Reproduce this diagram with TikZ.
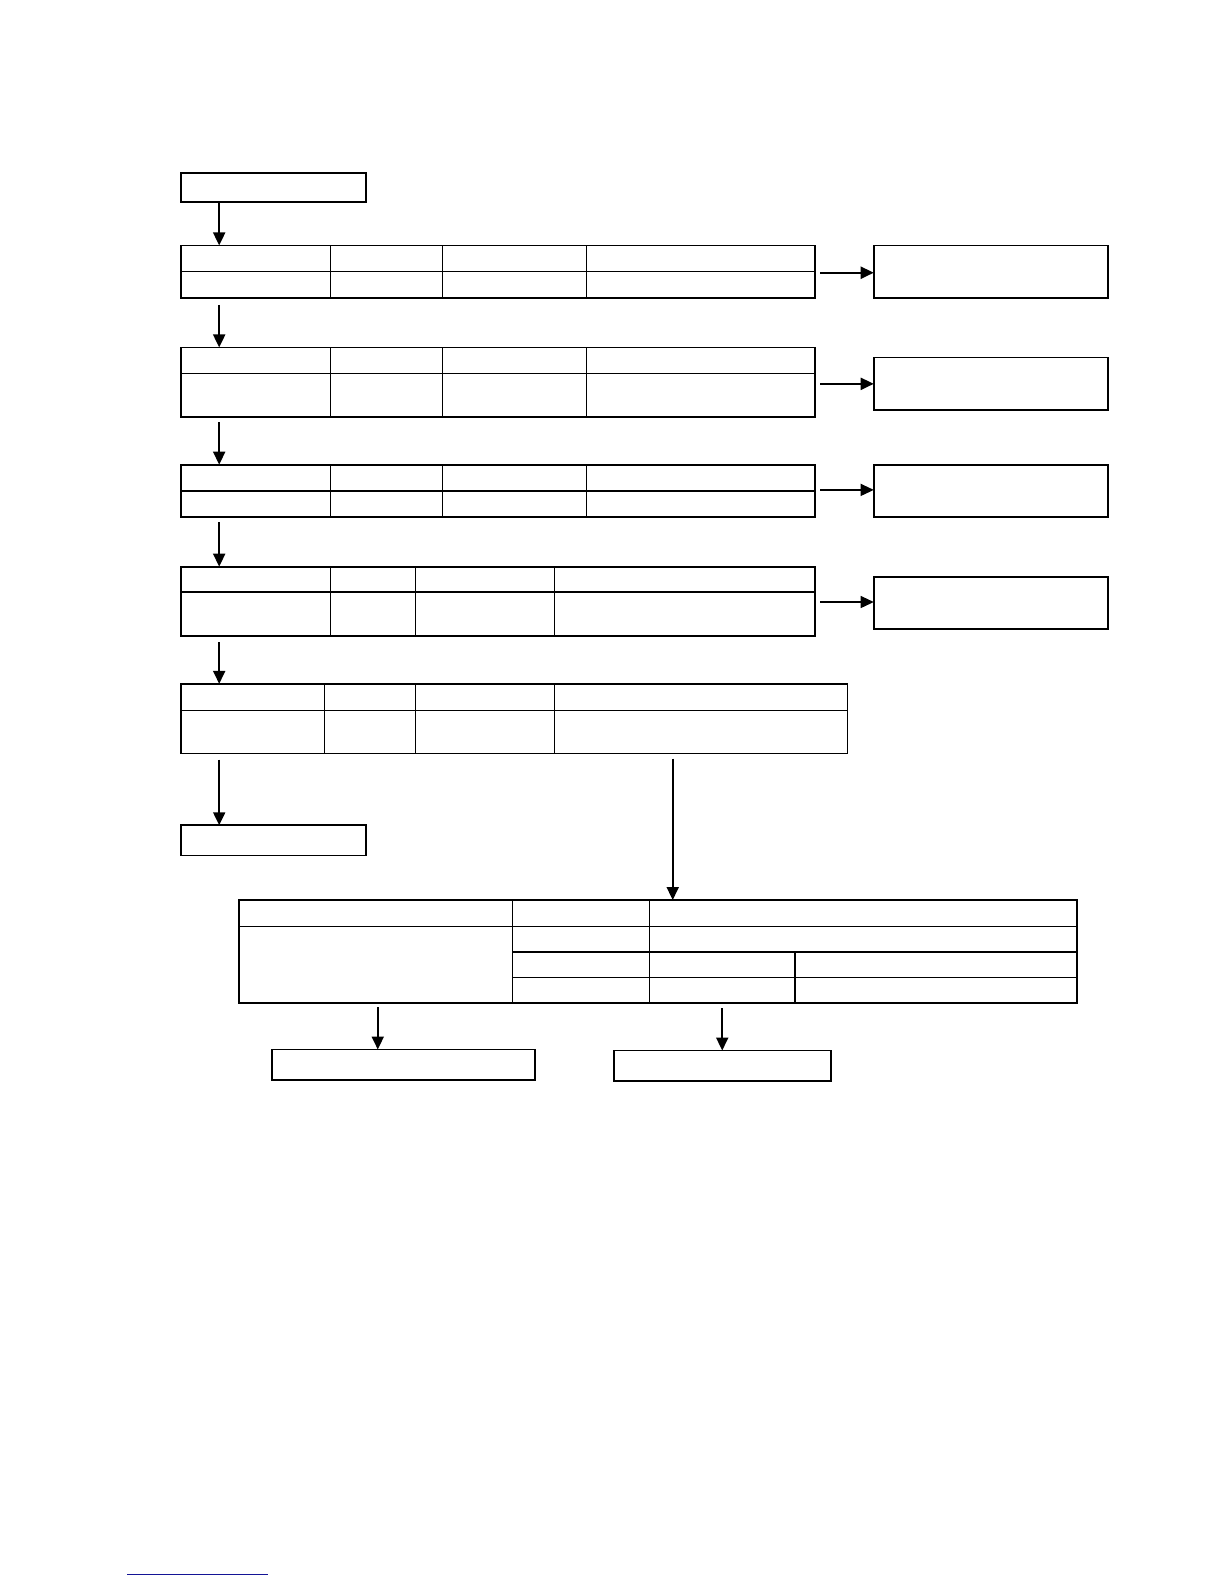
\documentclass[tikz,border=0pt]{standalone}
\usetikzlibrary{arrows.meta}
\newdimen\uu
\uu=0.50505pt
\begin{document}
\begin{tikzpicture}[x=\uu,y=-\uu,
  box/.style={draw,line width=0.9pt,inner sep=0pt,outer sep=0pt,anchor=north west,rectangle},
  grid/.style={line width=0.6pt},
  arr/.style={line width=1pt,-{Triangle[length=6.5pt,width=6pt]}},
  thinarr/.style={line width=0.6pt,-{Triangle[length=6.5pt,width=6pt]}}]
\useasboundingbox (0,0) rectangle (1211.76,1568.16);
\coordinate (cx) at (217,0);
% top box
\node[box,minimum width=183\uu,minimum height=29\uu] (start) at (179,171) {};
% table 1
\node[box,minimum width=628\uu,minimum height=52\uu] (t1) at (179,243) {};
\draw[grid] (179,269) -- (807,269);
\foreach \c in {327,438,581} \draw[grid] (\c,243) -- (\c,295);
\node[box,minimum width=232\uu,minimum height=52\uu] (r1) at (865,243) {};
% table 2
\node[box,minimum width=628\uu,minimum height=69\uu] (t2) at (179,344) {};
\draw[grid] (179,370) -- (807,370);
\foreach \c in {327,438,581} \draw[grid] (\c,344) -- (\c,413);
\node[box,minimum width=232\uu,minimum height=52\uu] (r2) at (865,354) {};
% table 3
\node[box,minimum width=628\uu,minimum height=52\uu] (t3) at (179,460) {};
\draw[grid] (179,486) -- (807,486);
\foreach \c in {327,438,581} \draw[grid] (\c,460) -- (\c,512);
\node[box,minimum width=232\uu,minimum height=52\uu] (r3) at (865,460) {};
% table 4
\node[box,minimum width=628\uu,minimum height=69\uu] (t4) at (179,561) {};
\draw[grid] (179,586) -- (807,586);
\foreach \c in {327,411,549} \draw[grid] (\c,561) -- (\c,630);
\node[box,minimum width=232\uu,minimum height=52\uu] (r4) at (865,571) {};
% table 5
\node[box,minimum width=660\uu,minimum height=69\uu] (t5) at (179,677) {};
\draw[grid] (179,703) -- (839,703);
\foreach \c in {321,411,549} \draw[grid] (\c,677) -- (\c,746);
% end box
\node[box,minimum width=183\uu,minimum height=30\uu] (endbox) at (179,817) {};
% bottom table
\node[box,minimum width=829\uu,minimum height=102\uu] (bt) at (237,891) {};
\draw[grid] (237,917) -- (1066,917);
\draw[line width=1pt] (507,942) -- (1066,942);
\draw[grid] (507,968) -- (1066,968);
\draw[grid] (507,891) -- (507,993);
\draw[grid] (643,891) -- (643,993);
\draw[grid] (787,942) -- (787,993);
\node[box,minimum width=261\uu,minimum height=30\uu] (b1) at (269,1039) {};
\node[box,minimum width=215\uu,minimum height=30\uu] (b2) at (608,1040) {};
% vertical arrows
\draw[arr] (start.south -| cx) -- (t1.north -| cx);
\draw[arr] ([yshift=-3.5pt]t1.south -| cx) -- (t2.north -| cx);
\draw[arr] ([yshift=-2.5pt]t2.south -| cx) -- (t3.north -| cx);
\draw[arr] ([yshift=-2.5pt]t3.south -| cx) -- (t4.north -| cx);
\draw[arr] ([yshift=-3pt]t4.south -| cx) -- (t5.north -| cx);
\draw[arr] ([yshift=-3pt]t5.south -| cx) -- (endbox.north -| cx);
\coordinate (cm) at (666,0);
\draw[arr] ([yshift=-2.5pt]t5.south -| cm) -- (bt.north -| cm);
\coordinate (cl) at (374,0);
\coordinate (cr) at (715,0);
\draw[arr] ([yshift=-2pt]bt.south -| cl) -- (b1.north -| cl);
\draw[arr] ([yshift=-2.5pt]bt.south -| cr) -- (b2.north -| cr);
% horizontal arrows
\coordinate (y1) at (0,270);
\coordinate (y2) at (0,380);
\coordinate (y3) at (0,485);
\coordinate (y4) at (0,596);
\draw[arr] ([xshift=2.5pt]t1.east |- y1) -- (r1.west |- y1);
\draw[arr] ([xshift=2.5pt]t2.east |- y2) -- (r2.west |- y2);
\draw[thinarr] ([xshift=2.5pt]t3.east |- y3) -- (r3.west |- y3);
\draw[thinarr] ([xshift=2.5pt]t4.east |- y4) -- (r4.west |- y4);
% footer link line
\draw[line width=0.65pt,color={rgb,255:red,20;green,20;blue,150}] (126,1559) -- (265,1559);
\end{tikzpicture}
\end{document}
